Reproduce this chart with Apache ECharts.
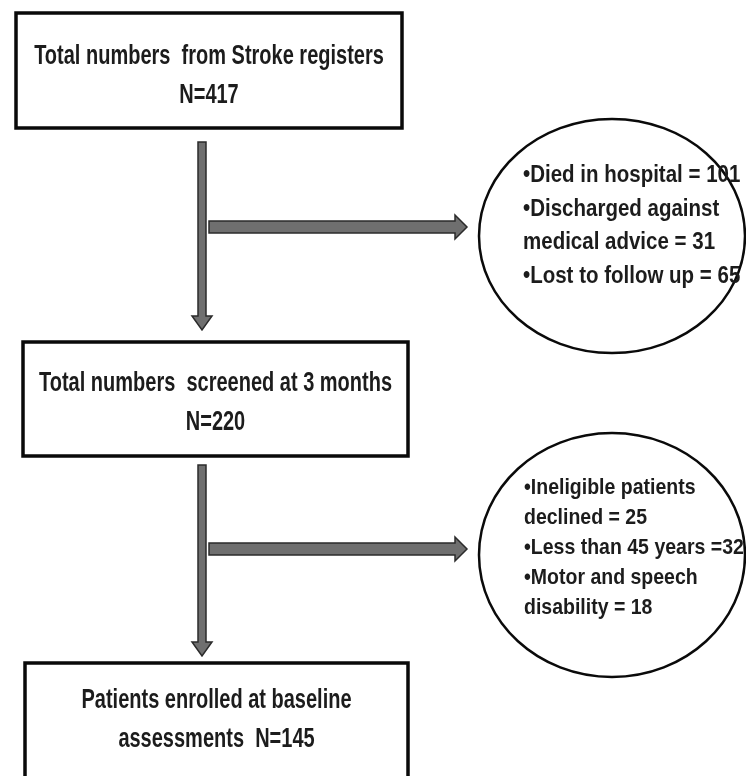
<!DOCTYPE html>
<html><head><meta charset="utf-8">
<script src="https://cdn.jsdelivr.net/npm/echarts@6/dist/echarts.min.js"></script>
<style>html,body{margin:0;padding:0;background:#fff}#c{width:746px;height:776px}</style>
</head><body><div id="c"></div>
<script>
// ---- data ----
const stageTitles = ['Total numbers  from Stroke registers', 'Total numbers  screened at 3 months', 'Patients enrolled at baseline\nassessments'];
const stageSeparators = ['\n', '\n', '  '];
const stageCounts = [417, 220, 145];
const exclusion1Labels = ['Died in hospital', 'Discharged against\nmedical advice', 'Lost to follow up'];
const exclusion1Seps = [' = ', ' = ', ' = '];
const exclusion1Counts = [101, 31, 65];
const exclusion2Labels = ['Ineligible patients\ndeclined', 'Less than 45 years', 'Motor and speech\ndisability'];
const exclusion2Seps = [' = ', ' =', ' = '];
const exclusion2Counts = [25, 32, 18];

// ---- layout (styling / geometry, in page units) ----
const boxLayout = [
  {x: 16, y: 13, w: 386, h: 115, cy: 76},
  {x: 23, y: 342, w: 385, h: 114, cy: 403},
  {x: 25, y: 663, w: 383, h: 140, cy: 720}
];
const ellipseLayout = [
  {cx: 612, cy: 236, rx: 133, ry: 117, tx: 523, ty: 159, lh: 33.5, size: 20.5},
  {cx: 612, cy: 555, rx: 133, ry: 122, tx: 524, ty: 473, lh: 30, size: 19.5}
];
const downArrows = [{x: 202, y1: 142, y2: 330}, {x: 202, y1: 465, y2: 656}];
const rightArrows = [{y: 227, x1: 209, x2: 467}, {y: 549, x1: 209, x2: 467}];

const FAMILY = '"Liberation Sans", Arial, sans-serif';
const BOX_FONT = 'bold 20px ' + FAMILY;
const BOX_SY = 1.4, BOX_LINE = 39;
const ELL_SY = 1.16;
const TEXT_COLOR = '#1c1c1c';

const stageTexts = stageTitles.map((t, i) => t + stageSeparators[i] + 'N=' + stageCounts[i]);
const exclTexts = [
  exclusion1Labels.map((l, i) => '•' + l + exclusion1Seps[i] + exclusion1Counts[i]).join('\n'),
  exclusion2Labels.map((l, i) => '•' + l + exclusion2Seps[i] + exclusion2Counts[i]).join('\n')
];

const items = [];
boxLayout.forEach((b, i) => items.push({kind: 'box', i}));
ellipseLayout.forEach((e, i) => items.push({kind: 'ellipse', i}));
downArrows.forEach((a, i) => items.push({kind: 'down', i}));
rightArrows.forEach((a, i) => items.push({kind: 'right', i}));

function renderItem(params, api) {
  const it = items[params.dataIndex];
  const P = (x, y) => api.coord([x, y]);
  if (it.kind === 'box') {
    const b = boxLayout[it.i];
    const p0 = P(b.x, b.y), p1 = P(b.x + b.w, b.y + b.h);
    const c = P(b.x + b.w / 2, b.cy);
    return {type: 'group', children: [
      {type: 'rect', shape: {x: p0[0], y: p0[1], width: p1[0] - p0[0], height: p1[1] - p0[1]},
       style: {fill: '#fff', stroke: '#0a0a0a', lineWidth: 3.5}},
      {type: 'text', x: c[0], y: c[1], scaleX: 1, scaleY: BOX_SY,
       style: {text: stageTexts[it.i], x: 0, y: 0, align: 'center', verticalAlign: 'middle',
        font: BOX_FONT, fill: TEXT_COLOR, lineHeight: BOX_LINE / BOX_SY}}
    ]};
  }
  if (it.kind === 'ellipse') {
    const e = ellipseLayout[it.i];
    const c = P(e.cx, e.cy), r = P(e.cx + e.rx, e.cy + e.ry);
    const t = P(e.tx, e.ty);
    return {type: 'group', children: [
      {type: 'ellipse', shape: {cx: c[0], cy: c[1], rx: r[0] - c[0], ry: r[1] - c[1]},
       style: {fill: '#fff', stroke: '#0a0a0a', lineWidth: 2.5}},
      {type: 'text', x: t[0], y: t[1], scaleX: 1, scaleY: ELL_SY,
       style: {text: exclTexts[it.i], x: 0, y: 0, align: 'left', verticalAlign: 'top',
        font: 'bold ' + e.size + 'px ' + FAMILY, fill: TEXT_COLOR, lineHeight: e.lh / ELL_SY}}
    ]};
  }
  if (it.kind === 'down') {
    const a = downArrows[it.i];
    const sw = 4, hw = 10, hl = 14;
    const pts = [[a.x - sw, a.y1], [a.x + sw, a.y1], [a.x + sw, a.y2 - hl], [a.x + hw, a.y2 - hl], [a.x, a.y2],
      [a.x - hw, a.y2 - hl], [a.x - sw, a.y2 - hl]].map(p => P(p[0], p[1]));
    return {type: 'polygon', shape: {points: pts}, style: {fill: '#6f6f6f', stroke: '#2b2b2b', lineWidth: 1.5}};
  }
  const a = rightArrows[it.i];
  const sh = 6, hh = 12, hl = 12;
  const pts = [[a.x1, a.y - sh], [a.x2 - hl, a.y - sh], [a.x2 - hl, a.y - hh], [a.x2, a.y], [a.x2 - hl, a.y + hh],
    [a.x2 - hl, a.y + sh], [a.x1, a.y + sh]].map(p => P(p[0], p[1]));
  return {type: 'polygon', shape: {points: pts}, style: {fill: '#6f6f6f', stroke: '#2b2b2b', lineWidth: 1.5}};
}

const chart = echarts.init(document.getElementById('c'), null, {renderer: 'canvas'});
chart.setOption({
  animation: false,
  grid: {left: 0, right: 0, top: 0, bottom: 0},
  xAxis: {type: 'value', min: 0, max: 746, show: false},
  yAxis: {type: 'value', min: 0, max: 776, inverse: true, show: false},
  series: [{
    type: 'custom', renderItem, clip: false,
    data: items.map((d, i) => [i])
  }]
});
</script></body></html>
